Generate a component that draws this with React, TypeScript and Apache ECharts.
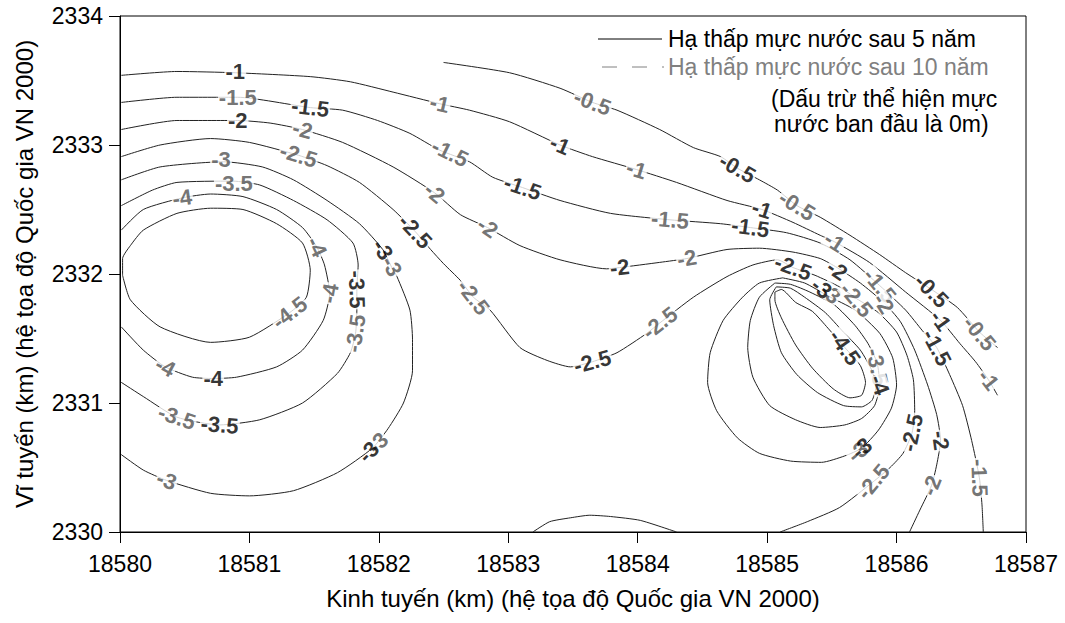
import React, { useEffect, useRef } from "react";
import * as echarts from "echarts";

const FONT = '"Liberation Sans", Arial, Helvetica, sans-serif';

const xTitle = "Kinh tuyến (km) (hệ tọa độ Quốc gia VN 2000)";
const yTitle = "Vĩ tuyến (km) (hệ tọa độ Quốc gia VN 2000)";
const legend5 = "Hạ thấp mực nước sau 5 năm";
const legend10 = "Hạ thấp mực nước sau 10 năm";
const noteLine1 = "(Dấu trừ thể hiện mực";
const noteLine2 = "nước ban đầu là 0m)";

// Contour lines, [x km, y km]
const cM05 = [[18582.50,2333.64],[18583.01,2333.56],[18583.40,2333.44],[18583.65,2333.33],[18583.84,2333.27],[18584.17,2333.12],[18584.43,2332.98],[18584.64,2332.91],[18584.77,2332.82],[18584.94,2332.73],[18585.08,2332.65],[18585.23,2332.53],[18585.41,2332.44],[18585.64,2332.30],[18585.87,2332.15],[18586.07,2332.01],[18586.27,2331.88],[18586.47,2331.74],[18586.64,2331.55],[18586.78,2331.43]];
const cM1 = [[18580.01,2333.54],[18580.44,2333.57],[18580.89,2333.56],[18581.47,2333.53],[18581.78,2333.49],[18582.11,2333.41],[18582.47,2333.32],[18582.70,2333.27],[18583.01,2333.18],[18583.40,2333.00],[18583.65,2332.91],[18583.99,2332.81],[18584.30,2332.71],[18584.69,2332.57],[18584.96,2332.50],[18585.20,2332.40],[18585.41,2332.30],[18585.52,2332.25],[18585.79,2332.09],[18586.07,2331.86],[18586.34,2331.64],[18586.49,2331.46],[18586.61,2331.32],[18586.71,2331.18],[18586.78,2331.06]];
const cM15 = [[18580.01,2333.33],[18580.44,2333.37],[18580.91,2333.37],[18581.47,2333.29],[18581.72,2333.27],[18581.99,2333.19],[18582.24,2333.09],[18582.47,2332.96],[18582.70,2332.87],[18582.88,2332.75],[18583.11,2332.67],[18583.40,2332.57],[18583.79,2332.47],[18584.25,2332.42],[18584.64,2332.39],[18584.87,2332.36],[18585.15,2332.32],[18585.41,2332.24],[18585.64,2332.11],[18585.87,2331.91],[18586.07,2331.72],[18586.20,2331.56],[18586.31,2331.43],[18586.41,2331.22],[18586.51,2330.98],[18586.58,2330.71],[18586.64,2330.42],[18586.66,2330.21],[18586.67,2330.00]];
const cM2 = [[18580.01,2333.12],[18580.44,2333.19],[18580.91,2333.19],[18581.16,2333.17],[18581.41,2333.12],[18581.72,2333.02],[18582.11,2332.83],[18582.43,2332.63],[18582.63,2332.46],[18582.84,2332.36],[18583.09,2332.22],[18583.40,2332.11],[18583.76,2332.04],[18583.86,2332.05],[18584.17,2332.09],[18584.38,2332.12],[18584.69,2332.19],[18584.94,2332.20],[18585.20,2332.17],[18585.41,2332.12],[18585.54,2332.05],[18585.72,2331.93],[18585.90,2331.78],[18586.03,2331.63],[18586.14,2331.41],[18586.24,2331.14],[18586.31,2330.91],[18586.34,2330.71],[18586.31,2330.52],[18586.27,2330.36],[18586.18,2330.17],[18586.10,2330.00]];
const cM25 = [[18580.01,2332.91],[18580.31,2333.00],[18580.70,2333.05],[18581.00,2333.02],[18581.38,2332.92],[18581.60,2332.84],[18581.85,2332.71],[18582.11,2332.50],[18582.28,2332.33],[18582.40,2332.19],[18582.50,2332.08],[18582.63,2331.95],[18582.73,2331.82],[18582.86,2331.72],[18583.09,2331.43],[18583.30,2331.33],[18583.48,2331.28],[18583.65,2331.32],[18583.84,2331.39],[18584.07,2331.54],[18584.17,2331.62],[18584.43,2331.82],[18584.69,2331.98],[18584.89,2332.07],[18585.08,2332.11],[18585.20,2332.05],[18585.37,2331.99],[18585.56,2331.90],[18585.69,2331.81],[18585.86,2331.70],[18586.00,2331.55],[18586.08,2331.37],[18586.13,2331.18],[18586.14,2330.94],[18586.12,2330.77],[18586.05,2330.61],[18585.95,2330.50],[18585.82,2330.39],[18585.56,2330.19],[18585.31,2330.08],[18585.10,2330.00]];
const cM3Left = [[18580.01,2332.73],[18580.31,2332.83],[18580.80,2332.87],[18581.10,2332.83],[18581.34,2332.73],[18581.60,2332.57],[18581.85,2332.39],[18582.03,2332.19],[18582.10,2332.05],[18582.14,2331.98],[18582.24,2331.72],[18582.26,2331.49],[18582.26,2331.25],[18582.19,2331.00],[18582.07,2330.80],[18581.95,2330.65],[18581.68,2330.46],[18581.34,2330.32],[18581.00,2330.28],[18580.70,2330.30],[18580.36,2330.40],[18580.18,2330.48],[18580.01,2330.60]];
const cM35Left = [[18580.01,2332.53],[18580.25,2332.65],[18580.44,2332.71],[18580.87,2332.72],[18581.08,2332.69],[18581.34,2332.57],[18581.60,2332.42],[18581.80,2332.24],[18581.84,2332.07],[18581.83,2331.88],[18581.83,2331.72],[18581.82,2331.54],[18581.78,2331.39],[18581.68,2331.23],[18581.41,2331.00],[18581.08,2330.87],[18580.77,2330.83],[18580.44,2330.89],[18580.18,2331.05],[18580.01,2331.16]];
const cM4Left = [[18580.01,2332.34],[18580.18,2332.50],[18580.48,2332.59],[18580.70,2332.62],[18580.95,2332.60],[18581.21,2332.50],[18581.41,2332.36],[18581.52,2332.21],[18581.58,2332.07],[18581.62,2331.85],[18581.57,2331.64],[18581.41,2331.41],[18581.21,2331.28],[18580.90,2331.20],[18580.72,2331.19],[18580.56,2331.20],[18580.35,2331.28],[18580.18,2331.41],[18580.01,2331.59]];
const cM45Left = [[18580.02,2331.99],[18580.02,2332.12],[18580.08,2332.22],[18580.18,2332.34],[18580.44,2332.47],[18580.70,2332.51],[18580.95,2332.50],[18581.21,2332.39],[18581.41,2332.24],[18581.47,2332.03],[18581.44,2331.82],[18581.31,2331.70],[18581.00,2331.51],[18580.70,2331.47],[18580.31,2331.59],[18580.08,2331.80],[18580.02,2331.99]];
const cM3Pit = [[18585.12,2331.97],[18584.94,2331.93],[18584.81,2331.82],[18584.66,2331.64],[18584.56,2331.39],[18584.54,2331.16],[18584.61,2330.94],[18584.77,2330.73],[18584.94,2330.61],[18585.18,2330.55],[18585.42,2330.54],[18585.60,2330.59],[18585.73,2330.65],[18585.86,2330.79],[18585.96,2330.96],[18586.00,2331.14],[18585.97,2331.35],[18585.87,2331.54],[18585.68,2331.72],[18585.47,2331.83],[18585.29,2331.93],[18585.12,2331.97]];
const cM35Pit = [[18585.06,2331.93],[18584.94,2331.82],[18584.87,2331.64],[18584.85,2331.43],[18584.89,2331.20],[18585.02,2330.98],[18585.22,2330.87],[18585.41,2330.81],[18585.60,2330.83],[18585.73,2330.88],[18585.83,2330.98],[18585.87,2331.14],[18585.85,2331.31],[18585.78,2331.46],[18585.68,2331.60],[18585.52,2331.76],[18585.33,2331.86],[18585.18,2331.92],[18585.06,2331.93]];
const cM4Pit = [[18585.07,2331.90],[18585.02,2331.80],[18585.05,2331.60],[18585.11,2331.39],[18585.23,2331.22],[18585.39,2331.08],[18585.59,2330.98],[18585.73,2330.97],[18585.81,2331.02],[18585.84,2331.12],[18585.81,2331.25],[18585.72,2331.41],[18585.58,2331.56],[18585.45,2331.70],[18585.29,2331.82],[18585.18,2331.89],[18585.07,2331.90]];
const cM45Pit = [[18585.06,2331.86],[18585.11,2331.88],[18585.22,2331.78],[18585.35,2331.71],[18585.47,2331.58],[18585.60,2331.43],[18585.72,2331.29],[18585.76,2331.16],[18585.73,2331.06],[18585.64,2331.04],[18585.51,2331.11],[18585.35,2331.27],[18585.22,2331.45],[18585.11,2331.66],[18585.06,2331.80],[18585.06,2331.86]];
const cBottom = [[18583.19,2330.00],[18583.32,2330.08],[18583.48,2330.11],[18583.63,2330.13],[18583.79,2330.12],[18584.02,2330.09],[18584.30,2330.00]];

const contourLines = [cM05, cM1, cM15, cM2, cM25, cM3Left, cM35Left, cM4Left, cM45Left, cM3Pit, cM35Pit, cM4Pit, cM45Pit, cBottom];

// Contour labels: [x km, y km, text]
const labels5yr: [number, number, string][] = [
  [18580.89,2333.57,"-1"],[18581.47,2333.29,"-1.5"],[18580.91,2333.19,"-2"],[18582.28,2332.33,"-2.5"],
  [18582.03,2332.19,"-3"],[18581.83,2331.88,"-3.5"],[18580.77,2330.83,"-3.5"],[18580.72,2331.19,"-4"],
  [18581.92,2330.62,"-3"],[18583.40,2333.00,"-1"],[18583.11,2332.67,"-1.5"],[18584.87,2332.36,"-1.5"],
  [18583.86,2332.05,"-2"],[18583.65,2331.32,"-2.5"],[18584.77,2332.82,"-0.5"],[18584.96,2332.50,"-1"],
  [18585.20,2332.05,"-2.5"],[18585.54,2332.03,"-2"],[18585.42,2331.89,"-3"],[18586.27,2331.87,"-0.5"],
  [18586.34,2331.64,"-1"],[18586.31,2331.43,"-1.5"],[18585.60,2331.43,"-4.5"],[18585.87,2331.14,"-4"],
  [18585.73,2330.65,"-3"],[18586.12,2330.77,"-2.5"],[18586.34,2330.71,"-2"]
];
const labels5yrRotate = [0,-7,0,-47,-58,-88,-4,0,45,-23,-19,-8,6,15,-30,-18,-20,-35,-40,-45,-55,-62,-55,-70,40,78,-82];
const labels5yrOverlap = [4, 8, 18, 24];

const labels10yr: [number, number, string][] = [
  [18582.47,2333.32,"-1"],[18580.91,2333.37,"-1.5"],[18582.55,2332.94,"-1.5"],[18581.41,2333.12,"-2"],
  [18582.43,2332.63,"-2"],[18582.84,2332.36,"-2"],[18581.38,2332.92,"-2.5"],[18582.73,2331.82,"-2.5"],
  [18580.78,2332.885,"-3"],[18582.10,2332.06,"-3"],[18580.88,2332.705,"-3.5"],[18581.82,2331.54,"-3.5"],
  [18580.44,2330.89,"-3.5"],[18580.48,2332.59,"-4"],[18581.52,2332.21,"-4"],[18581.62,2331.85,"-4"],
  [18580.35,2331.28,"-4"],[18581.31,2331.70,"-4.5"],[18580.36,2330.40,"-3"],[18581.99,2330.69,"-3"],
  [18583.65,2333.33,"-0.5"],[18583.99,2332.81,"-1"],[18584.25,2332.42,"-1.5"],[18584.38,2332.12,"-2"],
  [18584.17,2331.62,"-2.5"],[18585.23,2332.53,"-0.5"],[18585.52,2332.25,"-1"],[18585.49,2331.85,"-3"],
  [18585.69,2331.80,"-2.5"],[18585.87,2331.91,"-1.5"],[18585.90,2331.77,"-2"],[18586.64,2331.54,"-0.5"],
  [18586.71,2331.18,"-1"],[18585.85,2331.28,"-3.5"],[18585.70,2330.62,"-3"],[18585.82,2330.39,"-2.5"],
  [18586.27,2330.36,"-2"],[18586.64,2330.42,"-1.5"]
];
const labels10yrRotate = [-13,0,-26,-15,-40,-35,-17,-52,0,-62,0,82,-18,8,-65,80,-28,38,-20,45,-21,-17,-5,10,38,-32,-33,-40,-50,-50,-58,-50,-52,-78,40,50,68,-88];

function labelSeries(list: [number, number, string][], rots: number[], color: string, noBg: number[], z: number) {
  return {
    type: "scatter",
    silent: true,
    z,
    symbolSize: 1,
    itemStyle: { color: "rgba(0,0,0,0)" },
    emphasis: { disabled: true },
    label: {
      show: true,
      position: "inside",
      color,
      fontSize: 22,
      lineHeight: 18,
      fontWeight: "bold",
      fontFamily: FONT,
      align: "center",
      verticalAlign: "middle",
      padding: [0, 1],
    },
    data: list.map((d, i) => ({
      value: [d[0], d[1]],
      label: {
        formatter: d[2],
        rotate: rots[i],
        backgroundColor: noBg.indexOf(i) >= 0 ? "transparent" : "#ffffff",
      },
    })),
  };
}

export default function App() {
  const ref = useRef<HTMLDivElement>(null);
  useEffect(() => {
    if (!ref.current) return;
    const chart = echarts.init(ref.current, undefined, { renderer: "svg" });
    const lineSeries = contourLines.map((pts) => ({
      type: "line",
      data: pts,
      silent: true,
      symbol: "none",
      showSymbol: false,
      smooth: 0.2,
      z: 2,
      lineStyle: { color: "#222", width: 1 },
      emphasis: { disabled: true },
    }));
    chart.setOption({
      animation: false,
      backgroundColor: "#ffffff",
      textStyle: { fontFamily: FONT },
      grid: { left: 120, right: 39, top: 16, bottom: 91, show: true, borderColor: "#000", borderWidth: 1, backgroundColor: "transparent" },
      xAxis: {
        type: "value",
        min: 18580,
        max: 18587,
        interval: 1,
        name: xTitle,
        nameLocation: "middle",
        nameGap: 54,
        nameTextStyle: { fontSize: 24, color: "#000", fontFamily: FONT },
        axisLine: { lineStyle: { color: "#000", width: 1 } },
        axisTick: { show: true, inside: false, length: 11, lineStyle: { color: "#000" } },
        axisLabel: { fontSize: 23, color: "#000", margin: 20, fontFamily: FONT, formatter: (v: number) => String(v) },
        splitLine: { show: false },
      },
      yAxis: {
        type: "value",
        min: 2330,
        max: 2334,
        interval: 1,
        name: yTitle,
        nameLocation: "middle",
        nameGap: 84,
        nameTextStyle: { fontSize: 24, color: "#000", fontFamily: FONT },
        axisLine: { show: true, lineStyle: { color: "#000", width: 1 } },
        axisTick: { show: true, inside: false, length: 11, lineStyle: { color: "#000" } },
        axisLabel: { fontSize: 23, color: "#000", margin: 17, fontFamily: FONT, formatter: (v: number) => String(v) },
        splitLine: { show: false },
      },
      graphic: [
        { type: "line", shape: { x1: 598, y1: 39, x2: 662, y2: 39 }, style: { stroke: "#000", lineWidth: 1 } },
        { type: "text", x: 668, y: 39, style: { text: legend5, fill: "#000", fontSize: 23, fontFamily: FONT, verticalAlign: "middle" } },
        { type: "line", shape: { x1: 602, y1: 67, x2: 664, y2: 67 }, style: { stroke: "#808080", lineWidth: 1, lineDash: [15, 15] } },
        { type: "text", x: 668, y: 67, style: { text: legend10, fill: "#808080", fontSize: 23, fontFamily: FONT, verticalAlign: "middle" } },
        { type: "text", x: 771, y: 99, style: { text: noteLine1, fill: "#000", fontSize: 23, fontFamily: FONT, verticalAlign: "middle" } },
        { type: "text", x: 774, y: 124, style: { text: noteLine2, fill: "#000", fontSize: 23, fontFamily: FONT, verticalAlign: "middle" } },
      ],
      series: [
        ...lineSeries,
        labelSeries(labels10yr, labels10yrRotate, "#505050", [], 5),
        labelSeries(labels5yr, labels5yrRotate, "#000000", labels5yrOverlap, 6),
      ],
    });
    return () => chart.dispose();
  }, []);
  return <div ref={ref} style={{ position: "fixed", left: 0, top: 0, width: 1065, height: 623, background: "#fff" }} />;
}
